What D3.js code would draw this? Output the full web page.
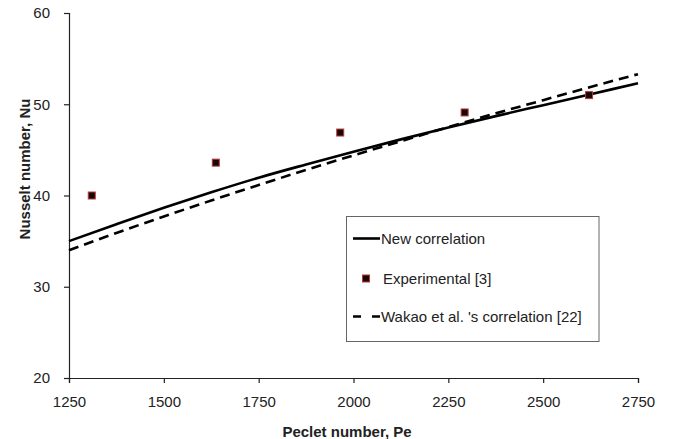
<!DOCTYPE html>
<html>
<head>
<meta charset="utf-8">
<script src="https://cdn.jsdelivr.net/npm/d3@7/dist/d3.min.js"></script>
<style>
  html, body { margin: 0; padding: 0; background: #fff; }
  svg { display: block; font-family: "Liberation Sans", Arial, sans-serif; }
</style>
</head>
<body>
<svg id="chart" width="673" height="439"></svg>
<script>
// ---- data ----
const peGrid = [1250, 1375, 1500, 1625, 1750, 1875, 2000, 2125, 2250, 2375, 2500, 2625, 2750];
const newCorrelation = [35.0, 36.85, 38.65, 40.35, 41.95, 43.4, 44.8, 46.15, 47.45, 48.7, 49.9, 51.1, 52.3];
const wakaoCorrelation = [34.0, 35.9, 37.7, 39.45, 41.15, 42.8, 44.4, 45.95, 47.5, 49.0, 50.45, 51.9, 53.3];
const expPe = [1310, 1637, 1965, 2293, 2621];
const expNu = [40.0, 43.6, 46.9, 49.1, 51.0];
const xTicks = [1250, 1500, 1750, 2000, 2250, 2500, 2750];
const yTicks = [20, 30, 40, 50, 60];
const legendLabels = ["New correlation", "Experimental [3]", "Wakao et al. 's correlation [22]"];

const svg = d3.select("#chart");
const mLeft = 69, mRight = 638, mTop = 13, mBottom = 378;

const x = d3.scaleLinear().domain([1250, 2750]).range([mLeft, mRight]);
const y = d3.scaleLinear().domain([20, 60]).range([mBottom, mTop]);

const axisColor = "#222";

// X axis
const gx = svg.append("g").attr("transform", `translate(0,${mBottom})`)
  .call(d3.axisBottom(x).tickValues(xTicks).tickFormat(d3.format("d")).tickSizeOuter(0).tickSize(5).tickPadding(13));
// Y axis
const gy = svg.append("g").attr("transform", `translate(${mLeft},0)`)
  .call(d3.axisLeft(y).tickValues(yTicks).tickFormat(d3.format("d")).tickSizeOuter(0).tickSize(5).tickPadding(14));

[gx, gy].forEach(g => {
  g.selectAll("path.domain").attr("stroke", axisColor).attr("stroke-width", 1.2);
  g.selectAll(".tick line").attr("stroke", axisColor).attr("stroke-width", 1.2);
  g.selectAll(".tick text").attr("fill", "#222").style("font-size", "15px")
    .style("font-family", '"Liberation Sans", Arial, sans-serif');
});

// Axis titles
svg.append("text")
  .attr("x", 347).attr("y", 437)
  .attr("text-anchor", "middle")
  .style("font-size", "15px").style("font-weight", "bold").attr("fill", "#222")
  .text("Peclet number, Pe");

svg.append("text")
  .attr("transform", "translate(30,169) rotate(-90)")
  .attr("text-anchor", "middle")
  .style("font-size", "15px").style("font-weight", "bold").attr("fill", "#222")
  .text("Nusselt number, Nu");

// Lines
const newData = peGrid.map((p, i) => [p, newCorrelation[i]]);
const wakData = peGrid.map((p, i) => [p, wakaoCorrelation[i]]);
const line = d3.line().x(d => x(d[0])).y(d => y(d[1])).curve(d3.curveMonotoneX);

svg.append("path").datum(wakData)
  .attr("d", line).attr("fill", "none").attr("stroke", "#000")
  .attr("stroke-width", 2.6).attr("stroke-dasharray", "10,6");

svg.append("path").datum(newData)
  .attr("d", line).attr("fill", "none").attr("stroke", "#000")
  .attr("stroke-width", 2.6);

// Experimental points
const ms = 7;
svg.append("g").selectAll("rect")
  .data(expPe.map((p, i) => [p, expNu[i]]))
  .join("rect")
  .attr("x", d => x(d[0]) - ms / 2).attr("y", d => y(d[1]) - ms / 2)
  .attr("width", ms).attr("height", ms)
  .attr("fill", "#1a0606").attr("stroke", "#b83a3a").attr("stroke-width", 1);

// Legend
const lg = svg.append("g");
lg.append("rect").attr("x", 346.5).attr("y", 216.5).attr("width", 252.5).attr("height", 125)
  .attr("fill", "#fff").attr("stroke", "#666").attr("stroke-width", 1);

const ly = [238.5, 278.5, 316.5];
lg.append("line").attr("x1", 353).attr("x2", 380).attr("y1", ly[0]).attr("y2", ly[0])
  .attr("stroke", "#000").attr("stroke-width", 2.6);
lg.append("rect").attr("x", 366 - ms / 2).attr("y", ly[1] - ms / 2).attr("width", ms).attr("height", ms)
  .attr("fill", "#1a0606").attr("stroke", "#b83a3a").attr("stroke-width", 1);
lg.append("line").attr("x1", 353).attr("x2", 380).attr("y1", ly[2]).attr("y2", ly[2])
  .attr("stroke", "#000").attr("stroke-width", 2.6).attr("stroke-dasharray", "8,11");

const lx = [381, 383, 381];
legendLabels.forEach((t, i) => {
  lg.append("text").attr("x", lx[i]).attr("y", ly[i]).attr("dy", "0.35em")
    .style("font-size", "15px").attr("fill", "#222").text(t);
});
</script>
</body>
</html>
